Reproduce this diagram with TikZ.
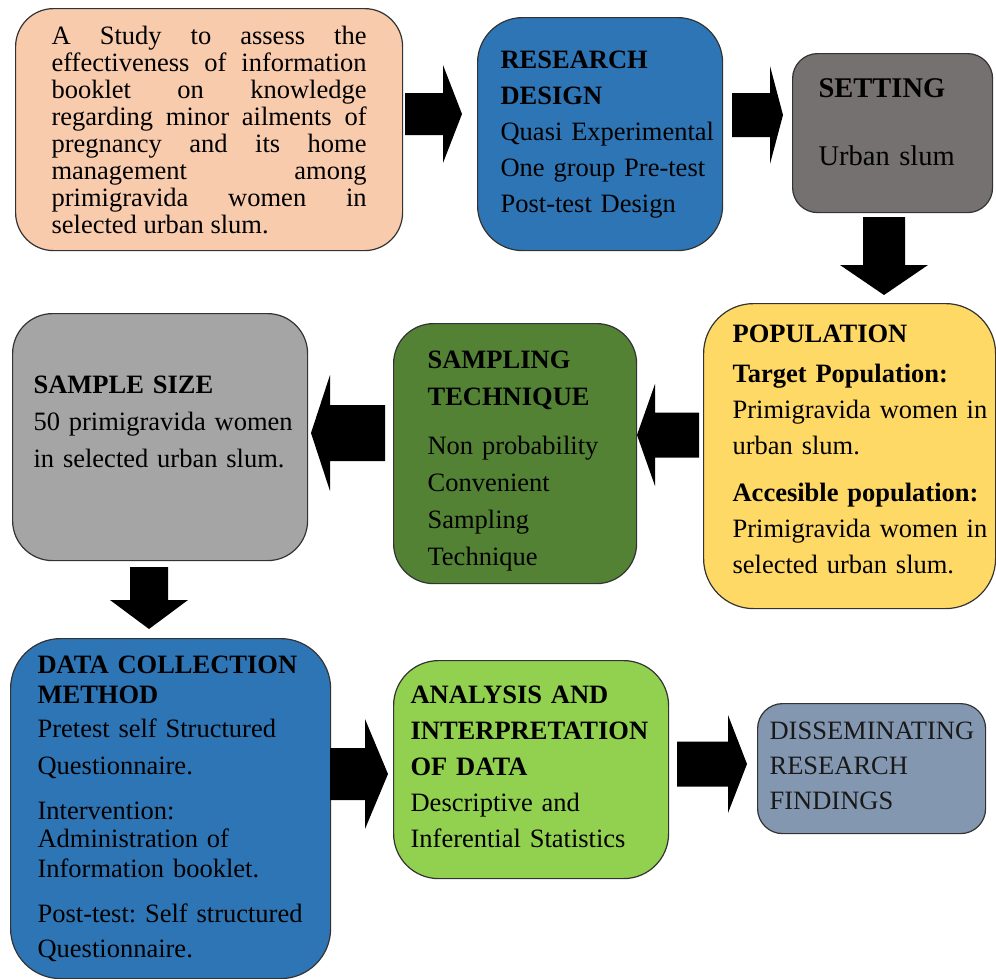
\documentclass[tikz,border=0pt]{standalone}
\usepackage{fontspec}
\setmainfont{Liberation Serif}
\usetikzlibrary{calc}

\definecolor{peach}{HTML}{F8CBAD}
\definecolor{designblue}{HTML}{2E75B6}
\definecolor{settinggray}{HTML}{767171}
\definecolor{popyellow}{HTML}{FFD966}
\definecolor{darkgreen}{HTML}{548235}
\definecolor{samplegray}{HTML}{A5A5A5}
\definecolor{analysisgreen}{HTML}{92D050}
\definecolor{findblue}{HTML}{8497B0}

\hyphenpenalty=10000
\exhyphenpenalty=10000

\tikzset{
  stepbox/.style={draw=black!80, line width=1.2pt, anchor=north west, align=left, inner ysep=0pt},
  blockfill/.style={fill=black},
}

% block arrow: start, tip, shaft half width, head half width, head length
\newcommand{\blockarrow}[5]{%
  \path ($(#2)!#5!(#1)$) coordinate (hb);
  \fill[blockfill] ($(#1)!#3!90:(#2)$) -- ($(hb)!#3!90:(#2)$) -- ($(hb)!#4!90:(#2)$) -- (#2)
    -- ($(hb)!#4!-90:(#2)$) -- ($(hb)!#3!-90:(#2)$) -- ($(#1)!#3!-90:(#2)$) -- cycle;
}

\begin{document}
\begin{tikzpicture}[x=1pt, y=-1pt]
        \useasboundingbox (0,0) rectangle (996,978);

        \node[stepbox, fill=peach, rounded corners=38pt, inner xsep=36pt, text width=315pt, minimum height=242pt, align=justify, font=\fontsize{26.5}{27}\selectfont] (study) at (15,8)
            {\tolerance=10000 A Study to assess the\linebreak effectiveness of information\linebreak booklet on knowledge\linebreak regarding minor ailments of\linebreak pregnancy and its home\linebreak management among\linebreak primigravida women in\linebreak selected urban slum.};
        \node[stepbox, fill=designblue, rounded corners=45pt, inner xsep=23pt, text width=199pt, minimum height=233pt, font=\fontsize{26.5}{36}\selectfont] (design) at (477,17)
            {\textbf{RESEARCH}\\\textbf{DESIGN}\\Quasi~Experimental\\One~group~Pre-test\\Post-test Design};
        \node[stepbox, fill=settinggray, rounded corners=25pt, inner xsep=26pt, text width=148pt, minimum height=159pt, font=\fontsize{28.5}{36}\selectfont] (setting) at (792,53)
            {\textbf{SETTING}\\[32pt]Urban slum\rule[-22pt]{0pt}{22pt}};

        \node[stepbox, fill=popyellow, rounded corners=50pt, inner xsep=29pt, text width=234pt, minimum height=305pt, font=\fontsize{26.5}{36}\selectfont] (population) at (703,303)
            {\textbf{POPULATION}\\[4pt]\textbf{Target~Population:}\\Primigravida~women~in\\urban slum.\\[11pt]\textbf{Accesible~population:}\\Primigravida~women~in\\selected urban slum.\rule[-13pt]{0pt}{13pt}};
        \node[stepbox, fill=darkgreen, rounded corners=40pt, inner xsep=34pt, text width=175pt, minimum height=260pt, font=\fontsize{26.5}{37}\selectfont] (sampling) at (393,323)
            {\rule{0pt}{32pt}\textbf{SAMPLING}\\\textbf{TECHNIQUE}\\[12pt]Non probability\\Convenient\\Sampling\\Technique};
        \node[stepbox, fill=samplegray, rounded corners=40pt, inner xsep=21pt, text width=253pt, minimum height=247pt, font=\fontsize{26.5}{37}\selectfont] (samplesize) at (12,313)
            {\textbf{SAMPLE SIZE}\\50~primigravida~women\\in selected urban slum.\rule[-30pt]{0pt}{30pt}};

        \node[stepbox, fill=designblue, rounded corners=50pt, inner xsep=27pt, text width=266pt, minimum height=340pt, font=\fontsize{26.5}{30}\selectfont] (collection) at (10,638)
            {\textbf{DATA~COLLECTION}\\\textbf{METHOD}\\[4pt]Pretest~self~Structured\\[7pt]Questionnaire.\\[15pt]Intervention:\\[-2pt]Administration~of\\Information~booklet.\\[15pt]Post-test:~Self~structured\\[5pt]Questionnaire.};
        \node[stepbox, fill=analysisgreen, rounded corners=45pt, inner xsep=17pt, text width=241pt, minimum height=218pt, font=\fontsize{26.5}{36}\selectfont] (analysis) at (393,660)
            {\textbf{ANALYSIS AND}\\\textbf{INTERPRETATION}\\\textbf{OF DATA}\\Descriptive and\\Inferential Statistics\rule[-6pt]{0pt}{6pt}};
        \node[stepbox, fill=findblue, rounded corners=25pt, inner xsep=12pt, text width=204pt, minimum height=130pt, text=black!90, font=\fontsize{26.5}{35}\selectfont] (findings) at (757,703)
            {DISSEMINATING\\RESEARCH\\FINDINGS\rule[-6pt]{0pt}{6pt}};

        % arrow ends
        \coordinate (a1s) at (405,114);
        \coordinate (a1t) at (462,114);
        \coordinate (a2s) at (732,115);
        \coordinate (a2t) at (783,115);
        \coordinate (a3s) at (884,217);
        \coordinate (a3t) at (884,295);
        \coordinate (a4s) at (699,435);
        \coordinate (a4t) at (637,435);
        \coordinate (a5s) at (385,433);
        \coordinate (a5t) at (311,433);
        \coordinate (a6s) at (149,567);
        \coordinate (a6t) at (149,629);
        \coordinate (a7s) at (330,774);
        \coordinate (a7t) at (388,774);
        \coordinate (a8s) at (677,764);
        \coordinate (a8t) at (747,764);

        \blockarrow{a1s}{a1t}{21pt}{49pt}{19pt}
        \blockarrow{a2s}{a2t}{22pt}{49pt}{13pt}
        \blockarrow{a3s}{a3t}{21pt}{44pt}{30pt}
        \blockarrow{a4s}{a4t}{22.5pt}{51pt}{18pt}
        \blockarrow{a5s}{a5t}{28pt}{58pt}{19pt}
        \blockarrow{a6s}{a6t}{19pt}{39pt}{29pt}
        \blockarrow{a7s}{a7t}{26pt}{55pt}{23pt}
        \blockarrow{a8s}{a8t}{22.5pt}{49pt}{19pt}
\end{tikzpicture}
\end{document}
